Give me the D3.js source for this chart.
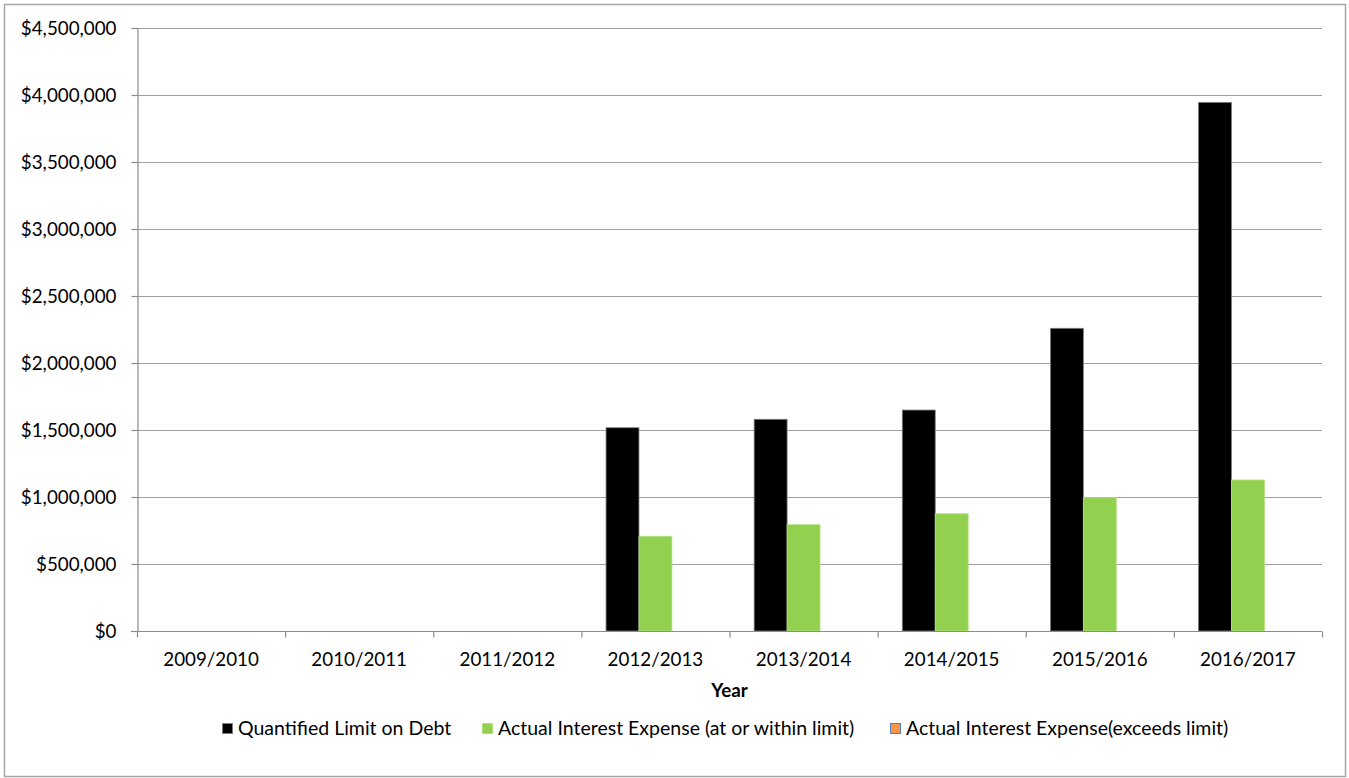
<!DOCTYPE html>
<html>
<head>
<meta charset="utf-8">
<script src="https://cdn.jsdelivr.net/npm/d3@7"></script>
<style>
  html, body { margin: 0; padding: 0; background: #fff; }
  svg { display: block; }
  text { font-family: Lato, "Open Sans", sans-serif; fill: #000; }
</style>
</head>
<body>
<svg id="chart" width="1349" height="778"></svg>
<script>
// Fiscal years on the category axis
const years = ["2009/2010", "2010/2011", "2011/2012", "2012/2013", "2013/2014", "2014/2015", "2015/2016", "2016/2017"];
// Series values (dollars); null where no data was reported
const quantifiedLimit = [null, null, null, 1517000, 1580000, 1649000, 2259000, 3945000];
const interestWithin  = [null, null, null, 707000, 793000, 875000, 995000, 1127000];
const interestExceeds = [null, null, null, 0, 0, 0, 0, 0];
const seriesNames = ["Quantified Limit on Debt", "Actual Interest Expense (at or within limit)", "Actual Interest Expense(exceeds limit)"];
const yTicks = [0, 500000, 1000000, 1500000, 2000000, 2500000, 3000000, 3500000, 4000000, 4500000];

const series = [
  { name: seriesNames[0], values: quantifiedLimit, fill: "#000000", stroke: "#7f7f7f" },
  { name: seriesNames[1], values: interestWithin,  fill: "#92d050", stroke: "#b3e07f" },
  { name: seriesNames[2], values: interestExceeds, fill: "#f79646", stroke: "#4f81bd" }
];

const svg = d3.select("#chart");
const plot = { left: 137, right: 1322, top: 28, bottom: 631 };
const FS = 18.8;

// outer chart border
svg.append("rect")
  .attr("x", 4.5).attr("y", 4.5).attr("width", 1341).attr("height", 772)
  .attr("fill", "#fff").attr("stroke", "#a6a6a6").attr("stroke-width", 1.5);

const x = d3.scaleBand().domain(years).range([plot.left, plot.right]).paddingInner(0.333).paddingOuter(0.1665);
const xCat = d3.scaleBand().domain(years).range([plot.left, plot.right]);
const xSub = d3.scaleBand().domain(d3.range(series.length)).range([0, x.bandwidth()]);
const y = d3.scaleLinear().domain([0, 4500000]).range([plot.bottom, plot.top]);

const fmt = v => "$" + d3.format(",")(v);

// horizontal gridlines
svg.append("g").selectAll("line").data(yTicks.filter(d => d > 0)).join("line")
  .attr("x1", plot.left).attr("x2", plot.right)
  .attr("y1", d => Math.round(y(d)) + 0.5).attr("y2", d => Math.round(y(d)) + 0.5)
  .attr("stroke", "#a0a0a0").attr("stroke-width", 1.2);

// y axis
const yAxis = svg.append("g").attr("transform", `translate(${plot.left + 0.5},0)`)
  .call(d3.axisLeft(y).tickValues(yTicks).tickFormat(fmt).tickSize(6).tickPadding(15));
yAxis.select(".domain").attr("stroke", "#8c8c8c").attr("stroke-width", 1.2);
yAxis.selectAll(".tick line").attr("stroke", "#8c8c8c").attr("stroke-width", 1.2);
yAxis.selectAll(".tick text").attr("font-size", FS).attr("font-family", "Lato, sans-serif").attr("fill", "#000");

// bars
const groups = svg.append("g").selectAll("g").data(series).join("g");
groups.each(function (s, si) {
  d3.select(this).selectAll("rect")
    .data(s.values.map((v, i) => ({ v, year: years[i] })).filter(d => d.v))
    .join("rect")
    .attr("x", d => x(d.year) + xSub(si))
    .attr("width", xSub.bandwidth())
    .attr("y", d => y(d.v))
    .attr("height", d => y(0) - y(d.v))
    .attr("fill", s.fill)
    .attr("stroke", s.stroke)
    .attr("stroke-width", 0.8);
});

// x axis with tick marks at category boundaries
const xAxisG = svg.append("g").attr("transform", `translate(0,${plot.bottom + 0.5})`);
xAxisG.append("line").attr("x1", plot.left - 6).attr("x2", plot.right).attr("y1", 0).attr("y2", 0)
  .attr("stroke", "#8c8c8c").attr("stroke-width", 1.2);
xAxisG.selectAll("line.tk").data(years.concat(["end"])).join("line").attr("class", "tk")
  .attr("x1", (d, i) => plot.left + i * xCat.step() + 0.5)
  .attr("x2", (d, i) => plot.left + i * xCat.step() + 0.5)
  .attr("y1", 0).attr("y2", 6)
  .attr("stroke", "#8c8c8c").attr("stroke-width", 1.2);
xAxisG.selectAll("text").data(years).join("text")
  .attr("x", d => xCat(d) + xCat.bandwidth() / 2)
  .attr("y", 34)
  .attr("text-anchor", "middle")
  .attr("font-size", FS)
  .text(d => d);

// axis title
svg.append("text").attr("x", (plot.left + plot.right) / 2).attr("y", 697)
  .attr("text-anchor", "middle").attr("font-size", FS).attr("font-weight", "bold").text("Year");

// legend
const legendX = [222, 482, 890];
const legend = svg.append("g").selectAll("g").data(series).join("g")
  .attr("transform", (d, i) => `translate(${legendX[i]},723)`);
legend.append("rect").attr("x", 0.5).attr("y", 0.5).attr("width", 10).attr("height", 10)
  .attr("fill", d => d.fill).attr("stroke", d => d.stroke).attr("stroke-width", 1);
legend.append("text").attr("x", 16).attr("y", 11.5).attr("font-size", 19.5).text(d => d.name);
</script>
</body>
</html>
